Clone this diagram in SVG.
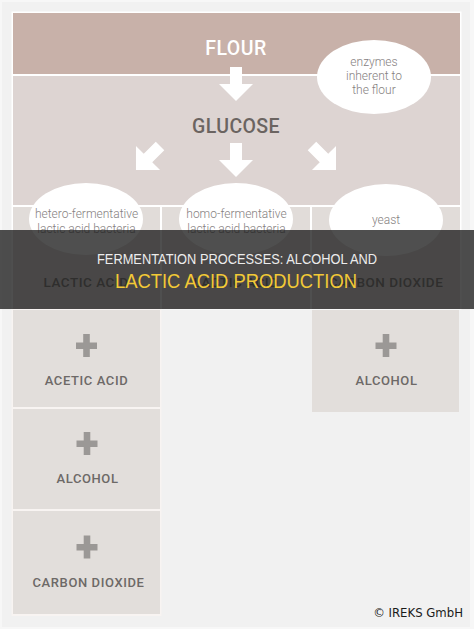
<svg xmlns="http://www.w3.org/2000/svg" width="474" height="629" viewBox="0 0 474 629">
  <defs>
    <style>
      .lbl { font-family: Roboto, "Liberation Sans", sans-serif; font-weight: 500; text-anchor: middle; }
      .prod { font-size: 13px; fill: #6d6967; letter-spacing: 0.6px; }
      .note { font-family: Roboto, "Liberation Sans", sans-serif; font-weight: 300; font-size: 12px; fill: #86817f; text-anchor: middle; }
      .box { fill: #e2dedb; }
      .plus { fill: #9b9896; }
      .ell { fill: #ffffff; }
      .arrow { fill: #ffffff; }
    </style>
    <path id="arr" d="M-6,-17 H6 V0 H17 L0,17 L-17,0 H-6 Z"/>
    <g id="plus">
      <rect x="-10.5" y="-3" width="21" height="6.5"/>
      <rect x="-3.3" y="-11.5" width="6.6" height="23"/>
    </g>
  </defs>

  <!-- background -->
  <rect x="0" y="0" width="474" height="629" fill="#f7f7f7"/>
  <rect x="2" y="2" width="468" height="625" fill="#f1f1f1"/>
  <!-- white framing lines -->
  <rect x="11.5" y="11.5" width="450" height="298" fill="#ffffff"/>
  <rect x="11.5" y="308" width="150" height="308" fill="#f8f4f2"/>

  <g id="flour">
    <rect x="13" y="13" width="447" height="61" fill="#c8b1a9"/>
    <text class="lbl" x="236" y="55" font-size="19.5" fill="#ffffff" letter-spacing="0.5">FLOUR</text>
  </g>

  <g id="glucose">
    <rect x="13" y="76" width="447" height="129" fill="#ddd4d2"/>
    <text class="lbl" x="236" y="133" font-size="19.5" fill="#6b6461" letter-spacing="0.4">GLUCOSE</text>
  </g>

  <g id="enzymes">
    <ellipse class="ell" cx="374" cy="77" rx="57" ry="37"/>
    <text class="note" x="374" y="66">enzymes</text>
    <text class="note" x="374" y="80">inherent to</text>
    <text class="note" x="374" y="94">the flour</text>
  </g>

  <g id="col-hetero">
    <rect x="13" y="207" width="147" height="102" fill="#e1dcd9"/>
    <text class="lbl" x="86" y="287" font-size="13.5" fill="#6c6866" letter-spacing="0.5">LACTIC ACID</text>
  </g>
  <g id="col-homo">
    <rect x="162" y="207" width="148" height="102" fill="#e1dcd9"/>
    <text class="lbl" x="236" y="287" font-size="13.5" fill="#6c6866" letter-spacing="0.5">LACTIC ACID</text>
  </g>
  <g id="col-yeast">
    <rect x="312" y="207" width="148" height="102" fill="#e1dcd9"/>
    <text class="lbl" x="386" y="287" font-size="13.5" fill="#6c6866" letter-spacing="0.5">CARBON DIOXIDE</text>
  </g>

  <g id="hetero">
    <ellipse class="ell" cx="86" cy="219" rx="57" ry="36"/>
    <text class="note" x="86.5" y="218">hetero-fermentative</text>
    <text class="note" x="86.5" y="233">lactic acid bacteria</text>
  </g>
  <g id="homo">
    <ellipse class="ell" cx="236" cy="219" rx="57" ry="36"/>
    <text class="note" x="236.5" y="218">homo-fermentative</text>
    <text class="note" x="236.5" y="233">lactic acid bacteria</text>
  </g>
  <g id="yeast">
    <ellipse class="ell" cx="386" cy="220" rx="57" ry="36"/>
    <text class="note" x="386" y="224">yeast</text>
  </g>

  <g id="connectors" class="arrow">
    <use href="#arr" transform="translate(236,84)"/>
    <use href="#arr" transform="translate(236,160)"/>
    <use href="#arr" transform="translate(148,158) rotate(45)"/>
    <use href="#arr" transform="translate(324,158) rotate(-45)"/>
  </g>

  <g id="acetic">
    <rect class="box" x="13" y="310" width="147" height="97"/>
    <use href="#plus" class="plus" transform="translate(86.5,345.5)"/>
    <text class="lbl prod" x="86.5" y="385">ACETIC ACID</text>
  </g>
  <g id="alcohol-left">
    <rect class="box" x="13" y="409" width="147" height="100"/>
    <use href="#plus" class="plus" transform="translate(87,443.5)"/>
    <text class="lbl prod" x="87.5" y="483">ALCOHOL</text>
  </g>
  <g id="co2-left">
    <rect class="box" x="13" y="511" width="147" height="103"/>
    <use href="#plus" class="plus" transform="translate(87,547)"/>
    <text class="lbl prod" x="88.5" y="587">CARBON DIOXIDE</text>
  </g>
  <g id="alcohol-right">
    <rect class="box" x="312" y="310" width="147" height="102"/>
    <use href="#plus" class="plus" transform="translate(386,345.5)"/>
    <text class="lbl prod" x="386.5" y="385">ALCOHOL</text>
  </g>

  <!-- title banner -->
  <g id="banner">
    <rect x="0" y="230" width="474" height="79" fill="#1e1e1e" fill-opacity="0.78"/>
    <text x="237" y="264" font-family="'Liberation Sans', Arial, sans-serif" font-size="14" fill="#ececec" text-anchor="middle" textLength="280" lengthAdjust="spacingAndGlyphs">FERMENTATION PROCESSES: ALCOHOL AND</text>
    <text x="236" y="288" font-family="'Liberation Sans', Arial, sans-serif" font-size="19.5" fill="#f2c936" text-anchor="middle" textLength="242" lengthAdjust="spacingAndGlyphs">LACTIC ACID PRODUCTION</text>
  </g>

  <text x="463" y="617" font-family="'Liberation Sans Narrow', 'DejaVu Sans Condensed', 'Arial Narrow', sans-serif" font-size="13" fill="#1a1a1a" text-anchor="end">© IREKS GmbH</text>
</svg>
